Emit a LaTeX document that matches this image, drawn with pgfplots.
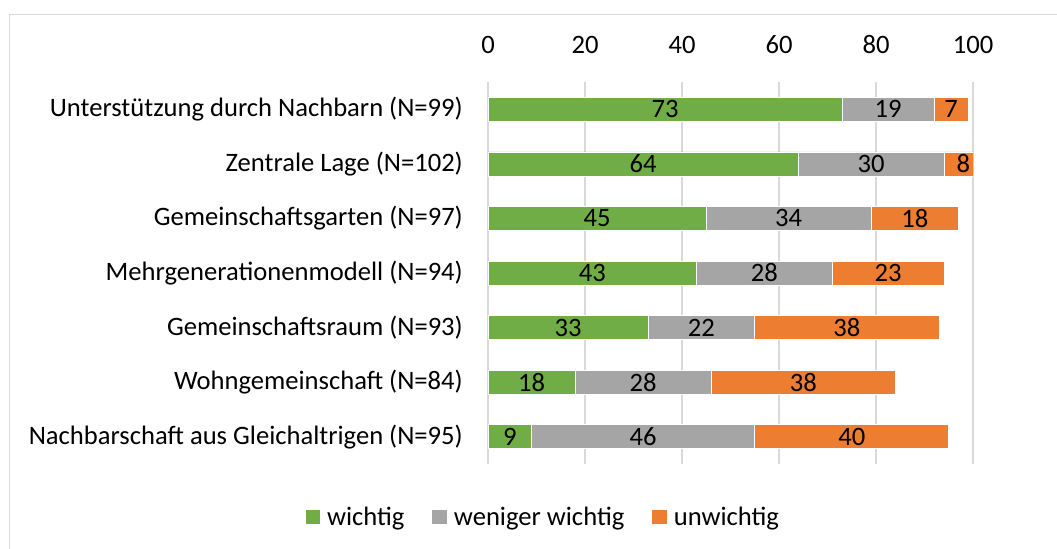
\documentclass[border=0pt]{standalone}
\usepackage{pgfplots}
\usepackage{pgfplotstable}
\pgfplotsset{compat=1.18}
\usepackage{fontspec}
\setmainfont{Carlito}
\definecolor{cgreen}{HTML}{70AD47}
\definecolor{cgray}{HTML}{A5A5A5}
\definecolor{corange}{HTML}{ED7D31}
\definecolor{cgrid}{HTML}{D9D9D9}
\newcommand\fs{\fontsize{26.6bp}{31bp}\selectfont}
\pgfplotstableread{
idx w m u
0 73 19 7
1 64 30 8
2 45 34 18
3 43 28 23
4 33 22 38
5 18 28 38
6 9 46 40
}\data
\pgfplotsset{
  base/.style={
    at={(488bp,-82bp)}, anchor=north west,
    scale only axis, width=485bp, height=382bp,
    xmin=0, xmax=100, ymin=-0.5, ymax=6.5, y dir=reverse,
    /pgf/number format/assume math mode=true,
  }
}
\begin{document}
\begin{tikzpicture}
\useasboundingbox (0,0) rectangle (1057bp,-549bp);
\draw[cgrid, line width=1.2bp] (9.5bp,-560bp) -- (9.5bp,-14.5bp) -- (1070bp,-14.5bp);
\begin{axis}[base,
  xbar stacked, bar width=24bp,
  axis line style={draw=none}, tick style={draw=none},
  xtick={0,20,...,100}, xticklabel pos=upper,
  xmajorgrids, grid style={cgrid, line width=1.2bp},
  ytick={0,...,6},
  yticklabels={Unterstützung durch Nachbarn (N=99), Zentrale Lage (N=102), Gemeinschaftsgarten (N=97), Mehrgenerationenmodell (N=94), Gemeinschaftsraum (N=93), Wohngemeinschaft (N=84), Nachbarschaft aus Gleichaltrigen (N=95)},
  xticklabel style={font=\fs, inner sep=0pt, anchor=south, yshift=28bp},
  yticklabel style={font=\fs, inner sep=0pt, anchor=east, xshift=-25bp},
  legend style={font=\fs, draw=none, at={(0.114,-0.139)}, anchor=center, legend columns=3,
    /tikz/every odd column/.append style={column sep=5bp},
    /tikz/every even column/.append style={column sep=26bp}},
  legend image code/.code={\fill[#1, draw=none] (0bp,-7.2bp) rectangle (14.5bp,7.2bp);},
]
\addplot[fill=cgreen, draw=white, line width=0.6bp] table[x=w, y=idx] {\data};
\addplot[fill=cgray, draw=white, line width=0.6bp] table[x=m, y=idx] {\data};
\addplot[fill=corange, draw=white, line width=0.6bp] table[x=u, y=idx] {\data};
\legend{wichtig, weniger wichtig, unwichtig}
\end{axis}
\begin{axis}[base, hide axis,
  every node near coord/.append style={font=\fs, anchor=center, inner sep=0pt, text=black}]
\addplot[only marks, mark=none, nodes near coords, point meta=explicit] table[x expr=\thisrow{w}/2, y=idx, meta=w] {\data};
\addplot[only marks, mark=none, nodes near coords, point meta=explicit] table[x expr=\thisrow{w}+\thisrow{m}/2, y=idx, meta=m] {\data};
\addplot[only marks, mark=none, nodes near coords, point meta=explicit] table[x expr=\thisrow{w}+\thisrow{m}+\thisrow{u}/2, y=idx, meta=u] {\data};
\end{axis}
\end{tikzpicture}
\end{document}
